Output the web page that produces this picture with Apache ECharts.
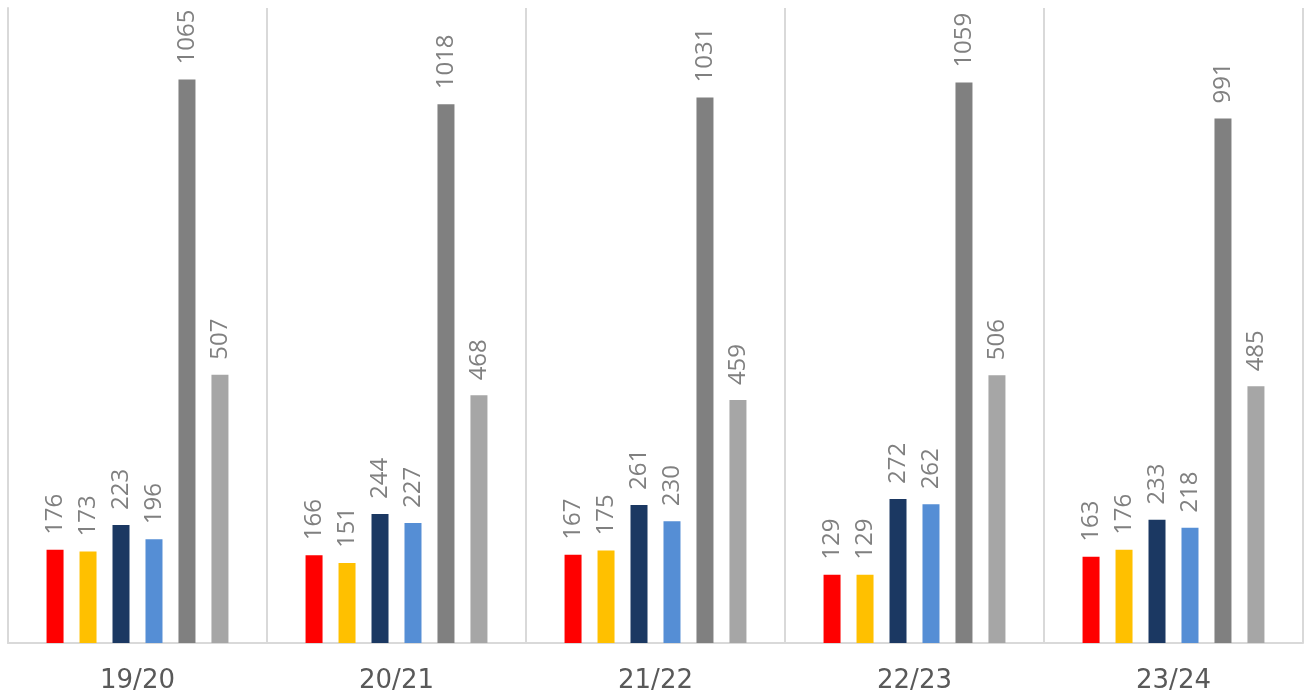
<!DOCTYPE html>
<html><head><meta charset="utf-8">
<script src="https://cdn.jsdelivr.net/npm/echarts@6/dist/echarts.min.js"></script>
<style>html,body{margin:0;padding:0;background:#fff}#c{width:1310px;height:694px}</style>
</head><body><div id="c"></div>
<script>
const categories = ['19/20','20/21','21/22','22/23','23/24'];
const s1 = [176,166,167,129,163];
const s2 = [173,151,175,129,176];
const s3 = [223,244,261,272,233];
const s4 = [196,227,230,262,218];
const s5 = [1065,1018,1031,1059,991];
const s6 = [507,468,459,506,485];
const seriesData = [s1,s2,s3,s4,s5,s6];
const colors = ['#FF0000','#FFC000','#1B3862','#558ED5','#808080','#A6A6A6'];

const chart = echarts.init(document.getElementById('c'));
chart.setOption({
  animation:false,
  grid:{left:8,right:7,top:8,bottom:51,containLabel:false},
  xAxis:{type:'category',data:categories,
    axisLine:{show:true,lineStyle:{color:'#D9D9D9',width:2}},
    axisTick:{show:false},
    splitLine:{show:true,lineStyle:{color:'#D9D9D9',width:2}},
    axisLabel:{color:'#595959',fontSize:26,margin:25,fontFamily:'DejaVu Sans'}},
  yAxis:{type:'value',min:0,max:1200,show:true,
    axisLine:{show:true,lineStyle:{color:'#D9D9D9',width:2}},
    axisTick:{show:false},axisLabel:{show:false},splitLine:{show:false}},
  series: seriesData.map((d,i)=>({type:'bar',data:d,barWidth:17,barGap:'94%',barCategoryGap:'30%',
    itemStyle:{color:colors[i]},
    label:{show:true,position:'top',rotate:90,align:'left',verticalAlign:'middle',distance:15,
      color:'#808080',fontSize:24,fontFamily:'Open Sans'}}))
});
</script></body></html>
